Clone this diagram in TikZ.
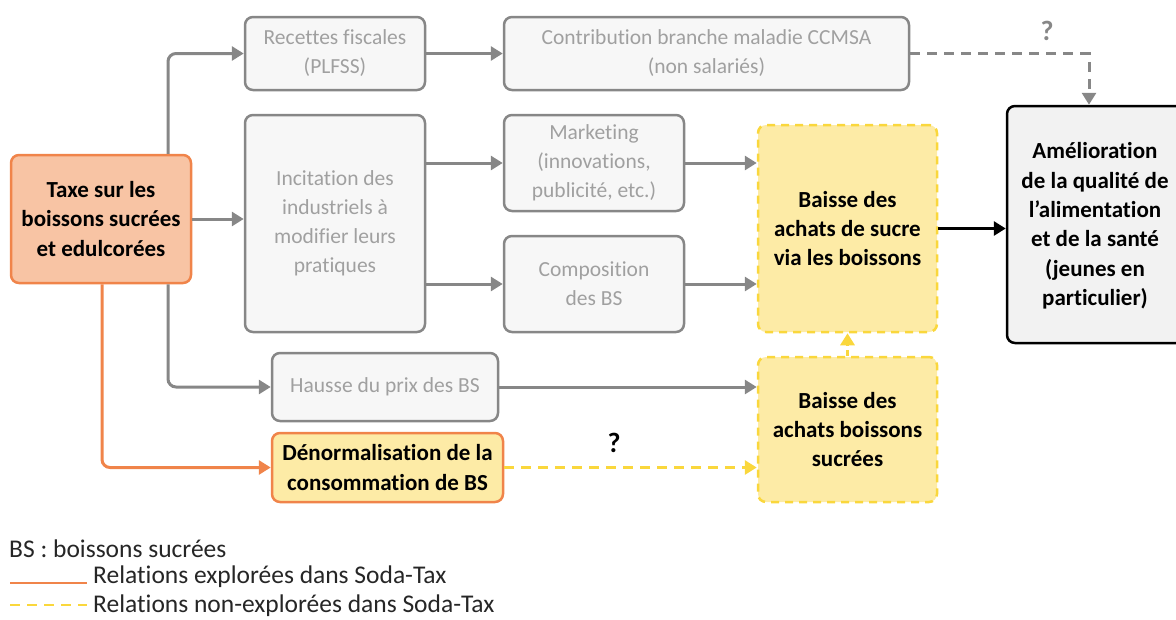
\documentclass[tikz,border=0pt]{standalone}
\usepackage{fontspec}
\setmainfont{Carlito}[Ligatures=NoCommon]
\usetikzlibrary{arrows.meta}
\definecolor{orng}{HTML}{F0844A}
\definecolor{peach}{HTML}{F8C4A4}
\definecolor{ylw}{HTML}{FAD73C}
\definecolor{lylw}{HTML}{FDEBA6}
\definecolor{gline}{HTML}{878787}
\definecolor{gfill}{HTML}{F7F7F7}
\definecolor{gtext}{HTML}{A0A0A0}
\definecolor{afill}{HTML}{F2F2F2}
\tikzset{
  box/.style={rounded corners=8pt, align=center, inner sep=0pt, line width=2.5pt,
    font=\fontsize{21.5}{29}\selectfont},
  greybox/.style={box, draw=gline, fill=gfill, text=gtext},
  boldtxt/.style={font=\bfseries\fontsize{23}{29.4}\selectfont},
  ylwbox/.style={box, boldtxt, draw=ylw, fill=lylw, dash pattern=on 8pt off 6pt},
  tip/.style={-{Triangle[length=12pt,width=14pt]}},
  garrow/.style={tip, draw=gline, line width=3pt},
  oarrow/.style={tip, draw=orng, line width=3pt},
  yarrow/.style={tip, draw=ylw, line width=3pt, dash pattern=on 10pt off 7pt},
  karrow/.style={tip, draw=black, line width=3pt},
  legtxt/.style={anchor=west, font=\fontsize{25.5}{28}\selectfont, text=black!85, inner sep=0pt},
  qmark/.style={font=\bfseries\fontsize{28}{30}\selectfont},
}
\begin{document}
\begin{tikzpicture}[x=1pt,y=-1pt]
\useasboundingbox (0,0) rectangle (1176,619);
% nodes
\node[box, boldtxt, draw=orng, fill=peach, minimum width=180pt, minimum height=128pt] (taxe) at (101,219)
  {Taxe sur les\\boissons sucrées\\et edulcorées};
\node[greybox, minimum width=180pt, minimum height=73pt] (rec) at (335,53.5) {Recettes fiscales\\(PLFSS)};
\node[greybox, minimum width=405pt, minimum height=73pt] (contrib) at (706.5,53.5) {Contribution branche maladie CCMSA\\(non salariés)};
\node[greybox, minimum width=180pt, minimum height=217pt] (incit) at (335,223.5) {Incitation des\\industriels à\\modifier leurs\\pratiques};
\node[greybox, minimum width=180pt, minimum height=96pt] (mkt) at (594,163) {Marketing\\(innovations,\\publicité, etc.)};
\node[greybox, minimum width=180pt, minimum height=96pt] (comp) at (594,284) {Composition\\des BS};
\node[ylwbox, minimum width=179pt, minimum height=207pt] (sucre) at (847.5,228.5) {Baisse des\\achats de sucre\\via les boissons};
\node[box, boldtxt, draw=black, fill=afill, minimum width=186pt, minimum height=237pt] (amel) at (1100,224.5) {};
\node[boldtxt, align=center] (ameltxt) at (1095,226) {Amélioration\\de la qualité de\\l’alimentation\\et de la santé\\(jeunes en\\particulier)};
\node[greybox, minimum width=226pt, minimum height=68pt] (hausse) at (385,387) {Hausse du prix des BS};
\node[box, boldtxt, draw=orng, fill=lylw, minimum width=231pt, minimum height=69pt] (denorm) at (387.5,467.5) {Dénormalisation de la\\consommation de BS};
\node[ylwbox, minimum width=179pt, minimum height=145pt] (boiss) at (847.5,429.5) {Baisse des\\achats boissons\\sucrées};
% coordinates
\coordinate (bx) at (168,0);
\coordinate (ox) at (102,0);
\coordinate (qx) at (1089,0);
% connectors
\draw[garrow] (taxe.east) -- (incit.west |- taxe.east);
\draw[garrow, rounded corners=8pt] (taxe.north -| bx) |- (rec.west);
\draw[garrow, rounded corners=8pt] (taxe.south -| bx) |- (hausse.west);
\draw[garrow] (rec.east) -- (contrib.west);
\draw[garrow, dash pattern=on 10pt off 7pt] (contrib.east) -| (amel.north -| qx);
\draw[garrow] (incit.east |- mkt.west) -- (mkt.west);
\draw[garrow] (incit.east |- comp.west) -- (comp.west);
\draw[garrow] (mkt.east) -- (sucre.west |- mkt.east);
\draw[garrow] (comp.east) -- (sucre.west |- comp.east);
\draw[karrow] (sucre.east) -- (amel.west |- sucre.east);
\draw[garrow] (hausse.east) -- (boiss.west |- hausse.east);
\draw[oarrow, rounded corners=8pt] (taxe.south -| ox) |- (denorm.west);
\draw[yarrow] (denorm.east) -- (boiss.west |- denorm.east);
\draw[tip, draw=ylw, line width=3pt, dash pattern=on 6pt off 4pt] (boiss.north) -- (sucre.south);
% question marks
\node[qmark, text=gline] (q1) at (1047,31) {?};
\node[qmark] (q2) at (614,443) {?};
% legend
\node[legtxt] (lg0) at (9,549) {BS : boissons sucrées};
\coordinate (l1a) at (10,583);
\coordinate (l1b) at (87,583);
\coordinate (l2a) at (10,605);
\coordinate (l2b) at (87,605);
\draw[orng, line width=2.5pt] (l1a) -- (l1b);
\draw[ylw, line width=2.5pt, dash pattern=on 10pt off 7pt] (l2a) -- (l2b);
\node[legtxt] (lg1) at (93,577) {Relations explorées dans Soda-Tax};
\node[legtxt] (lg2) at (93,606) {Relations non-explorées dans Soda-Tax};
\end{tikzpicture}
\end{document}
